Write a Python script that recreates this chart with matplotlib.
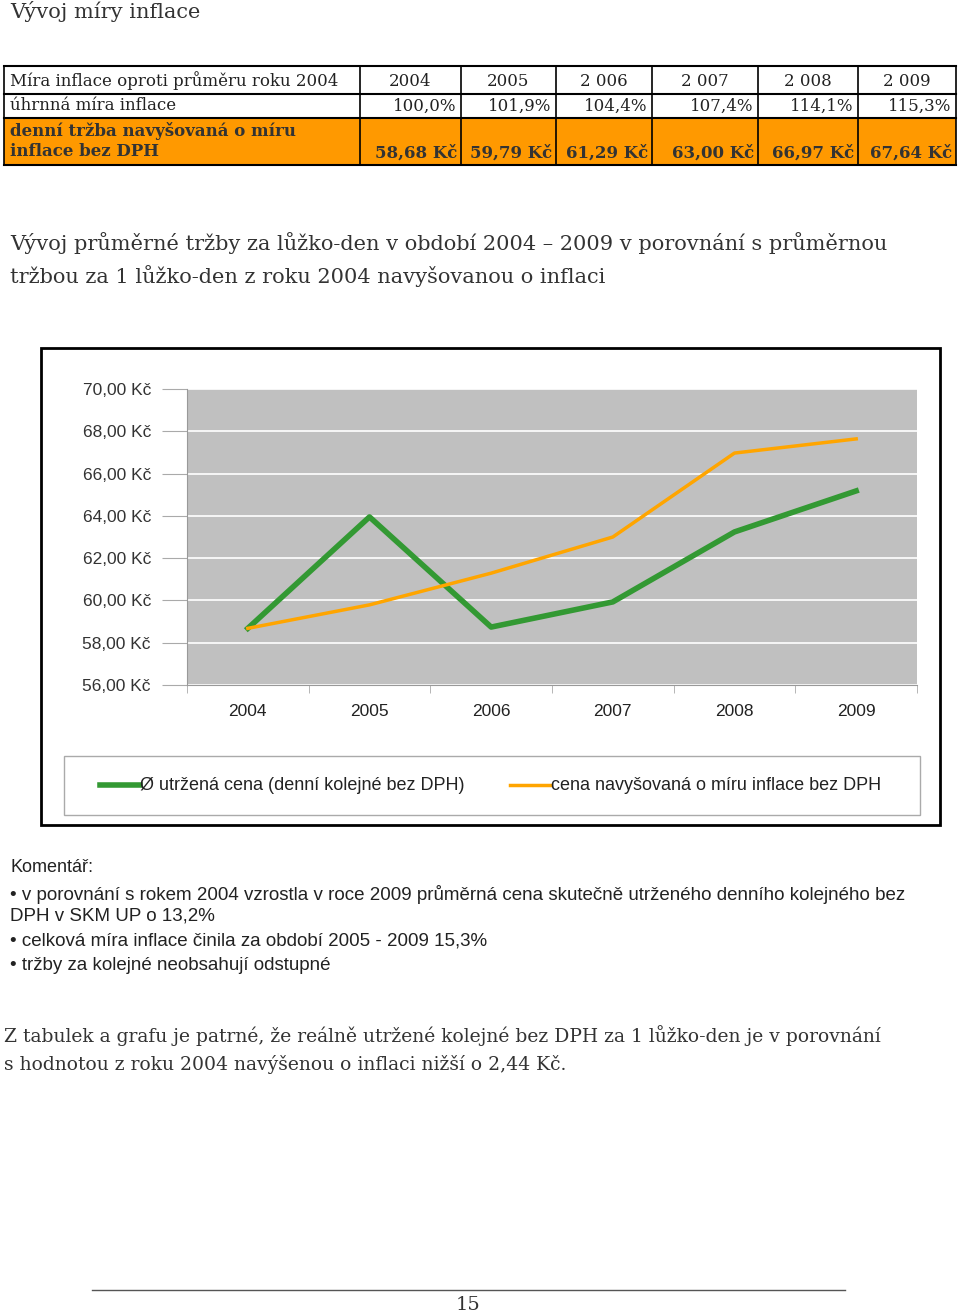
import matplotlib
matplotlib.use("Agg")
import matplotlib.pyplot as plt
from matplotlib.patches import Rectangle

years = ["2004", "2005", "2006", "2007", "2008", "2009"]
real_price = [58.68, 63.95, 58.74, 59.93, 63.24, 65.18]
inflated_price = [58.68, 59.79, 61.29, 63.00, 66.97, 67.64]
table_head = ["Míra inflace oproti průměru roku 2004", "2004", "2005", "2 006", "2 007", "2 008", "2 009"]
table_infl = ["úhrnná míra inflace", "100,0%", "101,9%", "104,4%", "107,4%", "114,1%", "115,3%"]
table_price = ["denní tržba navyšovaná o míru\ninflace bez DPH", "58,68 Kč", "59,79 Kč", "61,29 Kč", "63,00 Kč", "66,97 Kč", "67,64 Kč"]
yticks = [56, 58, 60, 62, 64, 66, 68, 70]

W, H = 960, 1314
fig = plt.figure(figsize=(9.6, 13.14), dpi=100)
def fx(x): return x / W
def fy(y): return 1 - y / H
SER = "DejaVu Serif"
SAN = "Liberation Sans"
def t(x, y, s, **kw):
    kw.setdefault("fontsize", 12)
    kw.setdefault("family", SER)
    kw.setdefault("color", "#222222")
    fig.text(fx(x), fy(y), s, va=kw.pop("va", "center"), **kw)
def rect(x0, y0, x1, y1, **kw):
    fig.add_artist(Rectangle((fx(x0), fy(y1)), fx(x1) - fx(x0), fy(y0) - fy(y1), transform=fig.transFigure, **kw))

t(10, 12, "Vývoj míry inflace", fontsize=15, color="#333333")

# table
cols = [4, 360, 461, 556, 652, 758, 858, 956]
rows = [66, 94, 118, 165]
rect(cols[0], rows[2], cols[-1], rows[3], facecolor="#ff9900", edgecolor="none")
for y in rows:
    fig.add_artist(plt.Line2D([fx(cols[0]), fx(cols[-1])], [fy(y)] * 2, color="black", lw=1.5))
for x in cols:
    fig.add_artist(plt.Line2D([fx(x)] * 2, [fy(rows[0]), fy(rows[-1])], color="black", lw=1.2))
for i, s in enumerate(table_head):
    if i == 0:
        t(10, 81, s, fontsize=12)
    else:
        t((cols[i] + cols[i + 1]) / 2, 81, s, ha="center", fontsize=12)
for i, s in enumerate(table_infl):
    if i == 0:
        t(10, 106, s, fontsize=12)
    else:
        t(cols[i + 1] - 5, 106, s, ha="right", fontsize=12)
for i, s in enumerate(table_price):
    if i == 0:
        t(10, 141, s, fontsize=12, fontweight="bold", color="#333333", linespacing=1.25)
    else:
        t(cols[i + 1] - 4, 153, s, ha="right", fontsize=12, fontweight="bold", color="#333333")

t(10, 243, "Vývoj průměrné tržby za lůžko-den v období 2004 – 2009 v porovnání s průměrnou", fontsize=15, color="#333333")
t(10, 276, "tržbou za 1 lůžko-den z roku 2004 navyšovanou o inflaci", fontsize=15, color="#333333")

# chart frame
rect(41, 348, 940, 825, facecolor="white", edgecolor="black", lw=2, zorder=-5)
ax = fig.add_axes([fx(187), fy(685), fx(917) - fx(187), fy(389) - fy(685)])
ax.set_facecolor("#c0c0c0")
xs = range(len(years))
ax.plot(xs, real_price, color="#339933", lw=4, label="Ø utržená cena (denní kolejné bez DPH)")
ax.plot(xs, inflated_price, color="#ffa500", lw=2.5, label="cena navyšovaná o míru inflace bez DPH")
ax.set_xlim(-0.5, 5.5)
ax.set_ylim(56, 70)
ax.set_yticks(yticks)
ax.set_yticklabels([f"{v},00 Kč" for v in yticks], family=SAN, fontsize=12.5, color="#333333")
ax.set_xticks(list(xs))
ax.set_xticklabels(years, family=SAN, fontsize=12.5, color="#222222")
ax.grid(axis="y", color="white", lw=1.2)
ax.set_axisbelow(True)
for sp in ["top", "right"]:
    ax.spines[sp].set_visible(False)
ax.spines["left"].set_color("#999999")
ax.spines["bottom"].set_color("#999999")
ax.tick_params(axis="y", length=18, color="#aaaaaa", pad=8)
ax.set_xticks([i + 0.5 for i in range(-1, 6)], minor=True)
ax.tick_params(axis="x", which="minor", length=6, color="#aaaaaa")
ax.tick_params(axis="x", which="major", length=0, pad=14)

rect(64, 756, 920, 815, facecolor="white", edgecolor="#aaaaaa", lw=1)
fig.add_artist(plt.Line2D([fx(100), fx(140)], [fy(785)] * 2, color="#339933", lw=4))
t(140, 785, "Ø utržená cena (denní kolejné bez DPH)", family=SAN, fontsize=13)
fig.add_artist(plt.Line2D([fx(510), fx(550)], [fy(785)] * 2, color="#ffa500", lw=2.5))
t(551, 785, "cena navyšovaná o míru inflace bez DPH", family=SAN, fontsize=13)

t(10, 867, "Komentář:", family=SAN, fontsize=13)
t(10, 894, "• v porovnání s rokem 2004 vzrostla v roce 2009 průměrná cena skutečně utrženého denního kolejného bez", family=SAN, fontsize=13.5)
t(10, 916, "DPH v SKM UP o 13,2%", family=SAN, fontsize=13.5)
t(10, 941, "• celková míra inflace činila za období 2005 - 2009 15,3%", family=SAN, fontsize=13.5)
t(10, 965, "• tržby za kolejné neobsahují odstupné", family=SAN, fontsize=13.5)

t(4, 1036, "Z tabulek a grafu je patrné, že reálně utržené kolejné bez DPH za 1 lůžko-den je v porovnání", fontsize=13.5, color="#333333")
t(4, 1065, "s hodnotou z roku 2004 navýšenou o inflaci nižší o 2,44 Kč.", fontsize=13.5, color="#333333")

fig.add_artist(plt.Line2D([fx(92), fx(845)], [fy(1290)] * 2, color="#555555", lw=1))
t(468, 1305, "15", ha="center", fontsize=14, color="#333333")

fig.savefig("out.png", dpi=100)
